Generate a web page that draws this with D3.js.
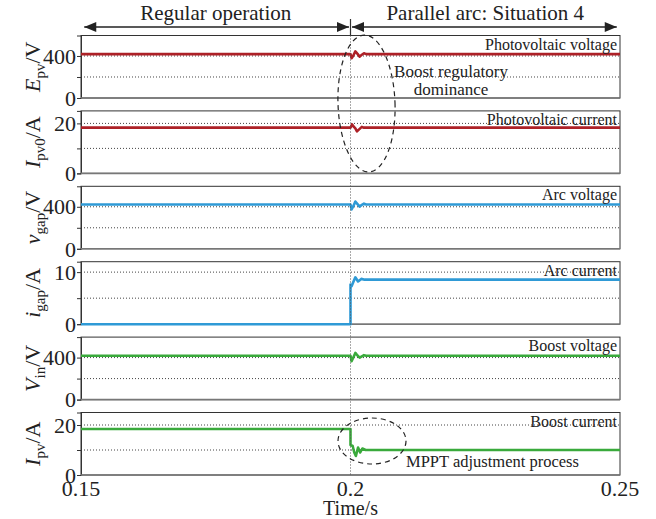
<!DOCTYPE html>
<html>
<head>
<meta charset="utf-8">
<script src="https://cdn.jsdelivr.net/npm/d3@7"></script>
<style>
  body { margin: 0; background: #fff; }
  svg { display: block; }
  text { font-family: 'Liberation Serif', 'Times New Roman', Times, 'DejaVu Serif', serif; }
</style>
</head>
<body>
<svg id="chart" width="656" height="519"></svg>
<script>
// time span + ticks
var timeDomain = [0.15, 0.25];
var timeTicks = [0.15, 0.2, 0.25];
var faultTime = 0.2;

// photovoltaic voltage / arc voltage / boost voltage (V)
var tVolt = [0.15, 0.2, 0.2002, 0.2005, 0.2009, 0.2013, 0.2017, 0.2021, 0.2025, 0.2029, 0.25];
var ePv  = [418, 418, 378, 402, 444, 420, 394, 412, 426, 418, 418];
var vGap = [422, 422, 374, 403, 450, 426, 402, 418, 430, 422, 422];
var vIn  = [418, 418, 366, 398, 444, 420, 400, 412, 423, 418, 418];

// photovoltaic current (A)
var tIpv0 = [0.15, 0.2, 0.2003, 0.2006, 0.2009, 0.2012, 0.2016, 0.2021, 0.2025, 0.25];
var iPv0  = [18.3, 18.3, 19.6, 18.7, 18.0, 16.8, 17.6, 18.6, 18.3, 18.3];

// arc current (A)
var tGap = [0.15, 0.2, 0.2, 0.2002, 0.2006, 0.2009, 0.2014, 0.2020, 0.2026, 0.25];
var iGap = [0, 0, 7.6, 7.3, 8.3, 9.0, 8.2, 8.7, 8.55, 8.55];

// boost current (A)
var tIpv = [0.15, 0.2, 0.2, 0.2004, 0.2007, 0.2010, 0.2014, 0.2018, 0.2022, 0.2028, 0.25];
var iPv  = [18.4, 18.4, 12.0, 11.6, 9.0, 7.6, 11.0, 9.0, 10.6, 10.0, 10.0];

var red = "#ad2127", blue = "#2f9ad6", green = "#3aaa3c";

var panels = [
	{ t: tVolt, v: ePv, max: 595, grid: [200, 400], labels: [0, 400], color: red, sym: "E", sub: "pv", unit: "/V", name: "Photovoltaic voltage" },
	{ t: tIpv0, v: iPv0, max: 25, grid: [10, 20], labels: [0, 20], color: red, sym: "I", sub: "pv0", unit: "/A", name: "Photovoltaic current" },
	{ t: tVolt, v: vGap, max: 595, grid: [200, 400], labels: [0, 400], color: blue, sym: "v", sub: "gap", unit: "/V", name: "Arc voltage" },
	{ t: tGap, v: iGap, max: 12, grid: [5, 10], labels: [0, 10], color: blue, sym: "i", sub: "gap", unit: "/A", name: "Arc current" },
	{ t: tVolt, v: vIn, max: 595, grid: [200, 400], labels: [0, 400], color: green, sym: "V", sub: "in", unit: "/V", name: "Boost voltage" },
	{ t: tIpv, v: iPv, max: 25, grid: [10, 20], labels: [0, 20], color: green, sym: "I", sub: "pv", unit: "/A", name: "Boost current" }
];

var svg = d3.select("#chart");
var left = 81, right = 620;
var top0 = 35.5, step = 75.4, ph = 62.5;

var x = d3.scaleLinear().domain(timeDomain).range([left, right]);

panels.forEach(function (p, i) {
	var y0 = top0 + i * step;
	var y = d3.scaleLinear().domain([0, p.max]).range([y0 + ph, y0]);
	var g = svg.append("g");

	// dotted grid
	g.selectAll("line.grid").data(p.grid).enter().append("line")
		.attr("x1", left).attr("x2", right)
		.attr("y1", function (d) { return y(d); }).attr("y2", function (d) { return y(d); })
		.attr("stroke", "#444").attr("stroke-width", 1).attr("stroke-dasharray", "1,2");

	// frame
	g.append("rect").attr("x", left).attr("y", y0).attr("width", right - left).attr("height", ph)
		.attr("fill", "none").attr("stroke", "#333").attr("stroke-width", 1);

	// left ticks
	var ax = d3.axisLeft(y).tickValues([0].concat(p.grid)).tickSize(4).tickFormat("");
	g.append("g").attr("transform", "translate(" + left + ",0)").call(ax)
		.call(function (s) { s.select(".domain").attr("stroke", "#333"); s.selectAll(".tick line").attr("stroke", "#333"); });

	g.selectAll("text.tl").data(p.labels).enter().append("text")
		.attr("x", left - 5).attr("y", function (d) { return y(d); })
		.attr("dy", "0.35em").attr("text-anchor", "end")
		.attr("font-size", 22).attr("fill", "#222").text(function (d) { return d; });

	// bottom axis line (gray)
	g.append("line").attr("x1", left).attr("x2", right).attr("y1", y0 + ph).attr("y2", y0 + ph)
		.attr("stroke", "#777").attr("stroke-width", 1.6);

	// data line
	var pts = p.t.map(function (t, k) { return [t, p.v[k]]; });
	g.append("path").datum(pts)
		.attr("d", d3.line().x(function (d) { return x(d[0]); }).y(function (d) { return y(d[1]); }))
		.attr("fill", "none").attr("stroke", p.color).attr("stroke-width", 2.6).attr("stroke-linejoin", "round");

	// name on the right
	g.append("text").attr("x", right - 3).attr("y", y0 + 14).attr("text-anchor", "end")
		.attr("font-size", 16).attr("fill", "#222").text(p.name);

	// y title
	var yt = g.append("text").attr("transform", "translate(40," + (y0 + ph / 2) + ") rotate(-90)")
		.attr("text-anchor", "middle").attr("font-size", 22).attr("fill", "#222");
	yt.append("tspan").attr("font-style", "italic").text(p.sym);
	yt.append("tspan").attr("font-size", 15).attr("dy", 5).text(p.sub);
	yt.append("tspan").attr("dy", -5).text(p.unit);
});

// fault marker (dotted vertical)
svg.append("line").attr("x1", x(faultTime)).attr("x2", x(faultTime))
	.attr("y1", top0).attr("y2", top0 + 5 * step + ph)
	.attr("stroke", "#555").attr("stroke-width", 1).attr("stroke-dasharray", "1,2");

// x tick labels
var bottom = top0 + 5 * step + ph;
svg.selectAll("text.xt").data(timeTicks).enter().append("text")
	.attr("x", function (d) { return x(d); }).attr("y", bottom + 21)
	.attr("text-anchor", "middle").attr("font-size", 22).attr("fill", "#222")
	.text(function (d) { return d; });
svg.append("text").attr("x", x(faultTime)).attr("y", bottom + 40).attr("text-anchor", "middle")
	.attr("font-size", 20).attr("fill", "#222").text("Time/s");

// header arrows
var ay = 27, xf = x(faultTime);
svg.append("line").attr("x1", xf).attr("x2", xf).attr("y1", 19).attr("y2", top0).attr("stroke", "#333").attr("stroke-width", 1.2);
function arrow(x1, x2) {
	svg.append("line").attr("x1", x1).attr("x2", x2).attr("y1", ay).attr("y2", ay).attr("stroke", "#222").attr("stroke-width", 1.3);
	svg.append("path").attr("d", "M" + x1 + "," + ay + "l12,-5v10z").attr("fill", "#222");
	svg.append("path").attr("d", "M" + x2 + "," + ay + "l-12,-5v10z").attr("fill", "#222");
}
arrow(x(0.1506), xf - 1.5);
arrow(xf + 1.5, x(0.2494));
svg.append("text").attr("x", (x(0.15) + xf) / 2).attr("y", 20).attr("text-anchor", "middle")
	.attr("font-size", 21).attr("fill", "#222").text("Regular operation");
svg.append("text").attr("x", (xf + x(0.25)) / 2).attr("y", 20).attr("text-anchor", "middle")
	.attr("font-size", 21).attr("fill", "#222").text("Parallel arc: Situation 4");

// annotations
svg.append("ellipse").attr("cx", 366.5).attr("cy", 103.5).attr("rx", 28.5).attr("ry", 68.5)
	.attr("transform", "rotate(-2,366.5,103.5)")
	.attr("fill", "none").attr("stroke", "#222").attr("stroke-width", 1.2).attr("stroke-dasharray", "5,4");
svg.append("text").attr("x", 451).attr("y", 77).attr("text-anchor", "middle").attr("font-size", 17).attr("fill", "#222").text("Boost regulatory");
svg.append("text").attr("x", 451).attr("y", 95).attr("text-anchor", "middle").attr("font-size", 17).attr("fill", "#222").text("dominance");

svg.append("ellipse").attr("cx", 372).attr("cy", 441).attr("rx", 34).attr("ry", 23)
	.attr("fill", "none").attr("stroke", "#222").attr("stroke-width", 1.2).attr("stroke-dasharray", "5,4");
svg.append("text").attr("x", 406).attr("y", 467).attr("font-size", 16.5).attr("fill", "#222").text("MPPT adjustment process");
</script>
</body>
</html>
